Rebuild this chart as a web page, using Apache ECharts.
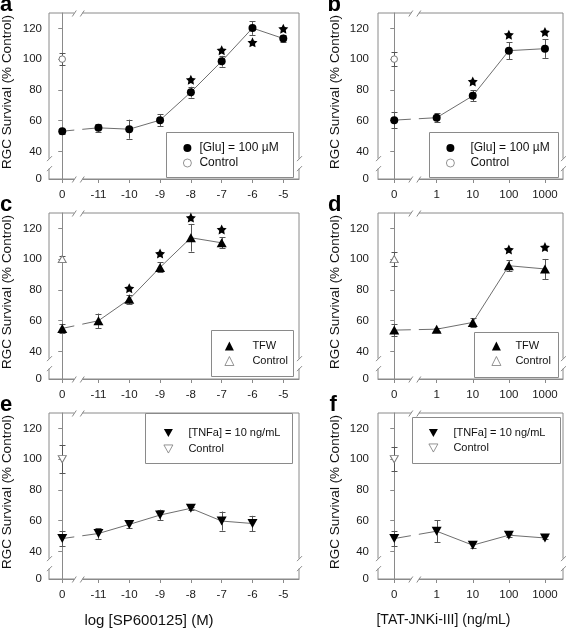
<!DOCTYPE html>
<html><head><meta charset="utf-8">
<script src="https://cdn.jsdelivr.net/npm/echarts@6/dist/echarts.min.js"></script>
<style>html,body{margin:0;padding:0;background:#fff}#c{width:566px;height:628px}</style>
</head><body><div id="c"></div>
<script>
// ---------- data ----------
const SP_LABELS = ['0', '-11', '-10', '-9', '-8', '-7', '-6', '-5'];
const TAT_LABELS = ['0', '1', '10', '100', '1000'];
const Y_TICKS = [0, 40, 60, 80, 100, 120];

// a: [Glu] + SP600125
const A_MEAN = [53.1, 55.3, 54.4, 60.3, 78.5, 98.6, 120.2, 113.4];
const A_ERR = [1.5, 2.5, 6.2, 4.0, 3.5, 3.5, 4.4, 2.5];
const A_CTRL = [100, 4];
const A_STARS = [null, null, null, null, 86.6, 105.8, 110.9, 119.8];
// b: [Glu] + TAT-JNKi-III
const B_MEAN = [60.3, 61.9, 76.1, 105.5, 106.8];
const B_ERR = [5.4, 3.0, 3.5, 5.5, 6.0];
const B_CTRL = [100, 4.5];
const B_STARS = [null, null, 85.5, 115.9, 117.6];
// c: TFW + SP600125
const C_MEAN = [54.9, 59.9, 73.9, 94.6, 113.9, 110.6];
const C_ERR = [3.0, 4.7, 3.0, 3.3, 9.0, 3.5];
const C_CTRL = [100, 2];
const C_STARS = [null, null, 81.0, 103.6, 127.0, 119.3];
// d: TFW + TAT-JNKi-III
const D_MEAN = [53.8, 54.4, 58.8, 95.7, 93.6];
const D_ERR = [3.8, 1.0, 2.8, 3.7, 6.5];
const D_CTRL = [100, 4.5];
const D_STARS = [null, null, null, 106.2, 107.8];
// e: [TNFa] + SP600125
const E_MEAN = [48.3, 51.6, 57.5, 63.6, 68.0, 59.7, 58.1];
const E_ERR = [5.0, 3.4, 2.5, 3.5, 1.0, 6.2, 5.0];
const E_CTRL = [100, 9];
const E_STARS = [];
// f: [TNFa] + TAT-JNKi-III
const F_MEAN = [48.3, 53.1, 44.0, 50.5, 48.7];
const F_ERR = [5.0, 7.0, 2.0, 1.0, 1.0];
const F_CTRL = [100, 8];
const F_STARS = [];

const GLU = '[Glu] = 100 µM', TFW = 'TFW', TNF = '[TNFa] = 10 ng/mL', CTRL = 'Control';
const X_TITLE_L = 'log [SP600125] (M)', X_TITLE_R = '[TAT-JNKi-III] (ng/mL)';
const Y_TITLE = 'RGC Survival (% Control)';

// ---------- scale helpers ----------
const BREAK_EXTRA = 0.175;           // extra room after the broken "0" position
const xPos = i => (i === 0 ? 0 : i + BREAK_EXTRA);
const Y_ZERO = 22;                    // where "0" sits below the y-axis break
const yMap = v => (v === 0 ? Y_ZERO : v);

const FONT = "'Liberation Sans', Arial, sans-serif";
const AX = '#8a8a8a', LINE = '#6e6e6e', ERRC = '#555';
const STAR = 'path://M0,-10 L2.94,-4.05 L9.51,-3.09 L4.76,1.55 L5.88,8.09 L0,5 L-5.88,8.09 L-4.76,1.55 L-9.51,-3.09 L-2.94,-4.05 Z';
const DOWN = 'path://M0,0 L10,0 L5,9 Z';

const COLS = [{left: 49, width: 250, min: -0.43, max: 7.685, xb: 0.52},
              {left: 378, width: 185, min: -0.45, max: 4.675, xb: 0.57}];
const ROWS = [13, 213, 413];
const PH = 166;

const panels = [
  {id: 'a', col: 0, row: 0, labels: SP_LABELS, mean: A_MEAN, err: A_ERR, ctrl: A_CTRL, stars: A_STARS, name: GLU,
   sym: 'circle', size: 8, csym: 'circle', csize: 6.5,
   leg: {left: 183, top: 141, s: 8, p: 3, gap: 1, fs: 12}, box: [166, 132, 127, 45], letter: [0, 16]},
  {id: 'b', col: 1, row: 0, labels: TAT_LABELS, mean: B_MEAN, err: B_ERR, ctrl: B_CTRL, stars: B_STARS, name: GLU,
   sym: 'circle', size: 8, csym: 'circle', csize: 6.5,
   leg: {left: 446, top: 141, s: 8, p: 11, gap: 1, fs: 12}, box: [429, 132, 129, 45], letter: [327.5, 16]},
  {id: 'c', col: 0, row: 1, labels: SP_LABELS, mean: C_MEAN, err: C_ERR, ctrl: C_CTRL, stars: C_STARS, name: TFW,
   sym: 'triangle', size: [10, 9], csym: 'triangle', csize: [8, 7],
   leg: {left: 224.5, top: 339, s: 9, p: 13.5, gap: 1, fs: 11}, box: [211, 330, 82, 46], letter: [0, 216]},
  {id: 'd', col: 1, row: 1, labels: TAT_LABELS, mean: D_MEAN, err: D_ERR, ctrl: D_CTRL, stars: D_STARS, name: TFW,
   sym: 'triangle', size: [10, 9], csym: 'triangle', csize: [8, 7],
   leg: {left: 491.5, top: 339, s: 9, p: 9.5, gap: 1, fs: 11}, box: [474, 332, 84, 45], letter: [328, 216]},
  {id: 'e', col: 0, row: 2, labels: SP_LABELS, mean: E_MEAN, err: E_ERR, ctrl: E_CTRL, stars: E_STARS, name: TNF,
   sym: DOWN, size: [10, 9], csym: DOWN, csize: [8, 7],
   leg: {left: 163.5, top: 426, s: 9, p: 10.5, gap: 2, fs: 11}, box: [145, 413, 147, 50], letter: [0, 416]},
  {id: 'f', col: 1, row: 2, labels: TAT_LABELS, mean: F_MEAN, err: F_ERR, ctrl: F_CTRL, stars: F_STARS, name: TNF,
   sym: DOWN, size: [10, 9], csym: DOWN, csize: [8, 7],
   leg: {left: 428.5, top: 426, s: 9, p: 10.5, gap: 1, fs: 11}, box: [412, 417, 148, 46], letter: [329.5, 416]}
];

const grid = [], xAxis = [], yAxis = [], series = [], legend = [], graphic = [];

function errRender(params, api) {
  const x = api.value(0), m = api.value(1), e = api.value(2);
  const t = api.coord([x, m + e]), b = api.coord([x, m - e]);
  const cx = Math.round(t[0]) + 0.5, w = 3;
  const st = {stroke: ERRC, lineWidth: 1, fill: null};
  return {type: 'group', children: [
    {type: 'line', shape: {x1: cx, y1: t[1], x2: cx, y2: b[1]}, style: st},
    {type: 'line', shape: {x1: cx - w, y1: Math.round(t[1]) + 0.5, x2: cx + w, y2: Math.round(t[1]) + 0.5}, style: st},
    {type: 'line', shape: {x1: cx - w, y1: Math.round(b[1]) + 0.5, x2: cx + w, y2: Math.round(b[1]) + 0.5}, style: st}
  ]};
}

function breakRender(xb) {
  return function (params, api) {
    const cs = params.coordSys;
    const L = cs.x, T = cs.y, R = cs.x + cs.width, B = cs.y + cs.height;
    const xp = api.coord([xb, 60])[0];
    const yp = api.coord([0, 32])[1];
    const wht = {fill: '#fff', stroke: null};
    const ln = {stroke: AX, lineWidth: 1, fill: null};
    const g = 4, kids = [];
    kids.push({type: 'rect', shape: {x: xp - g, y: T - 3, width: 2 * g, height: B - T + 6}, style: wht});
    kids.push({type: 'rect', shape: {x: L - 3, y: yp - 5, width: 6, height: 10}, style: wht});
    kids.push({type: 'rect', shape: {x: R - 3, y: yp - 5, width: 6, height: 10}, style: wht});
    [xp - g, xp + g].forEach(x => {
      [T + 0.5, B + 0.5].forEach(y => kids.push({type: 'line', shape: {x1: x - 2, y1: y + 3, x2: x + 2, y2: y - 3}, style: ln}));
    });
    [L + 0.5, R + 0.5].forEach(x => {
      [yp - 5, yp + 5].forEach(y => kids.push({type: 'line', shape: {x1: x - 2.5, y1: y + 2.5, x2: x + 2.5, y2: y - 2.5}, style: ln}));
    });
    return {type: 'group', children: kids};
  };
}

panels.forEach((p, k) => {
  const c = COLS[p.col];
  grid.push({left: c.left, top: ROWS[p.row], width: c.width, height: PH, show: true, borderColor: AX, borderWidth: 1, backgroundColor: 'transparent'});
  const xs = p.labels.map((_, i) => xPos(i));
  xAxis.push({type: 'value', gridIndex: k, min: c.min, max: c.max,
    axisLine: {show: true, lineStyle: {color: AX}}, splitLine: {show: false},
    axisTick: {show: true, length: 4, lineStyle: {color: AX}, customValues: xs},
    axisLabel: {customValues: xs, margin: 10, color: '#1a1a1a', fontSize: 11.5, fontFamily: FONT,
      formatter: v => { const i = xs.findIndex(q => Math.abs(q - v) < 1e-6); return i >= 0 ? p.labels[i] : ''; }}});
  const ys = Y_TICKS.map(yMap);
  yAxis.push({type: 'value', gridIndex: k, min: Y_ZERO, max: 130,
    axisLine: {show: true, lineStyle: {color: AX}}, splitLine: {show: false},
    axisTick: {show: true, length: 4, lineStyle: {color: AX}, customValues: ys},
    axisLabel: {customValues: ys, margin: p.col === 0 ? 7 : 9, color: '#1a1a1a', fontSize: 11.5, fontFamily: FONT,
      formatter: v => (Math.abs(v - Y_ZERO) < 1e-6 ? '0' : String(Math.round(v)))}});

  const pts = p.mean.map((m, i) => [xPos(i), m]);
  const errs = p.mean.map((m, i) => [xPos(i), m, p.err[i]]);
  const nm = p.name + '|' + p.id, cn = CTRL + '|' + p.id;
  series.push({type: 'line', xAxisIndex: k, yAxisIndex: k, data: pts, symbol: 'none', z: 2,
    lineStyle: {color: LINE, width: 1}, silent: true});
  series.push({type: 'custom', xAxisIndex: k, yAxisIndex: k, data: errs.concat([[0, p.ctrl[0], p.ctrl[1]]]),
    renderItem: errRender, z: 3, silent: true});
  series.push({type: 'scatter', name: nm, xAxisIndex: k, yAxisIndex: k, data: pts, symbol: p.sym, symbolSize: p.size, z: 4,
    itemStyle: {color: '#000', opacity: 1}});
  series.push({type: 'scatter', name: cn, xAxisIndex: k, yAxisIndex: k, data: [[0, p.ctrl[0]]], symbol: p.csym, symbolSize: p.csize, z: 4,
    itemStyle: {color: '#fff', borderColor: '#7a7a7a', borderWidth: 1, opacity: 1}});
  const st = p.stars.map((s, i) => (s == null ? null : [xPos(i), s])).filter(d => d);
  if (st.length) series.push({type: 'scatter', xAxisIndex: k, yAxisIndex: k, data: st, symbol: STAR, symbolSize: 10, z: 4,
    itemStyle: {color: '#000', opacity: 1}, silent: true});
  series.push({type: 'custom', xAxisIndex: k, yAxisIndex: k, data: [[0, 60]], renderItem: breakRender(c.xb), clip: false, z: 5, silent: true});

  legend.push({data: [{name: nm}, {name: cn, itemStyle: {borderWidth: 0.8}}], orient: 'vertical', left: p.leg.left, top: p.leg.top, padding: 0,
    itemWidth: p.leg.s, itemHeight: p.leg.s, itemGap: p.leg.gap, selectedMode: false, z: 8,
    formatter: n => n.split('|')[0],
    textStyle: {fontSize: p.leg.fs, fontFamily: FONT, color: '#111', lineHeight: 14, padding: [0, 0, 0, p.leg.p]}});
  graphic.push({type: 'rect', z: 7, shape: {x: p.box[0] + 0.5, y: p.box[1] + 0.5, width: p.box[2], height: p.box[3]},
    style: {fill: '#fff', stroke: AX, lineWidth: 1}});
  graphic.push({type: 'text', z: 9, x: p.letter[0], y: p.letter[1],
    style: {text: p.id, font: "bold 22px " + FONT, fill: '#000', verticalAlign: 'bottom'}});
  graphic.push({type: 'text', z: 7, x: p.col === 0 ? 7 : 335.5, y: ROWS[p.row] + 79, rotation: Math.PI / 2,
    style: {text: Y_TITLE, font: "13.5px " + FONT, fill: '#111', align: 'center', verticalAlign: 'middle'}});
});
graphic.push({type: 'text', z: 7, x: 149, y: 621, style: {text: X_TITLE_L, font: "15px " + FONT, fill: '#111', align: 'center', verticalAlign: 'middle'}});
graphic.push({type: 'text', z: 7, x: 443.5, y: 620, style: {text: X_TITLE_R, font: "14px " + FONT, fill: '#111', align: 'center', verticalAlign: 'middle'}});

const chart = echarts.init(document.getElementById('c'), null, {renderer: 'canvas'});
chart.setOption({animation: false, backgroundColor: '#fff', grid, xAxis, yAxis, series, legend, graphic});
</script></body></html>
